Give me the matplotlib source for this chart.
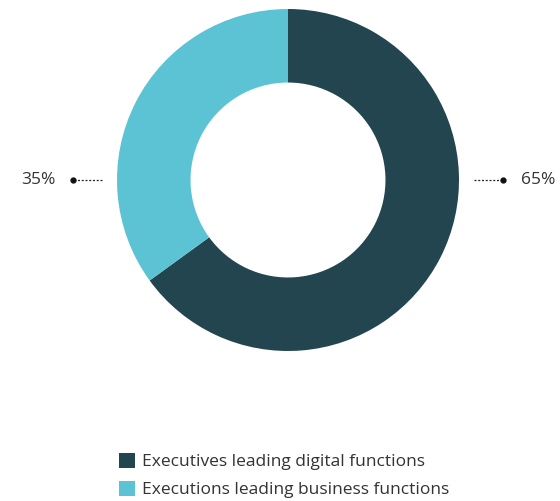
import matplotlib.pyplot as plt
from matplotlib.patches import Patch

labels = ["Executives leading digital functions", "Executions leading business functions"]
values = [65, 35]
colors = ["#224550", "#5BC3D4"]

plt.rcParams['font.family'] = ['Open Sans', 'DejaVu Sans']

fig = plt.figure(figsize=(5.6, 5.01), dpi=100)
ax = fig.add_axes([117 / 560, 150 / 501, 342 / 560, 342 / 501])
ax.pie(values, colors=colors, startangle=90, counterclock=False, radius=1,
       wedgeprops=dict(width=0.43, edgecolor='none'))
ax.set_xlim(-1, 1)
ax.set_ylim(-1, 1)
ax.set_aspect('equal')
ax.axis('off')

# leader lines and percentage labels
for side, v in zip([1, -1], values):
    ax.plot([side * 1.09, side * 1.26], [0, 0], ls=(0, (1.6, 1.4)), lw=0.9,
            color='#222222', clip_on=False)
    ax.plot([side * 1.26], [0], 'o', ms=3.5, color='#111111', clip_on=False)
    ax.text(side * 1.36, 0, f"{v}%", ha='left' if side > 0 else 'right',
            va='center', fontsize=12.5, color='#333333')

handles = [Patch(facecolor=c, edgecolor='none') for c in colors]
fig.legend(handles, labels, loc='upper left', bbox_to_anchor=(103 / 560, 1 - 437 / 501),
           frameon=False, fontsize=12.5, handlelength=0.95, handleheight=0.95,
           handletextpad=0.4, labelspacing=0.62, labelcolor='#333333')

fig.savefig('out.png', dpi=100)
